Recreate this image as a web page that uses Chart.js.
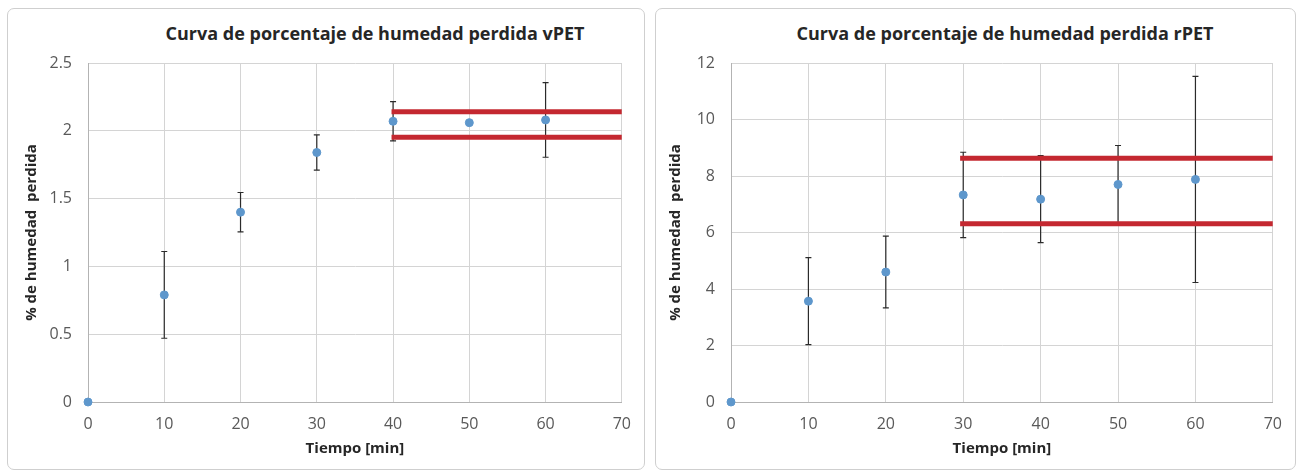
<!DOCTYPE html>
<html>
<head>
<meta charset="utf-8">
<script src="https://cdn.jsdelivr.net/npm/chart.js@4.4.1/dist/chart.umd.min.js"></script>
<style>
  body { margin: 0; background: #fff; width: 1303px; height: 475px; position: relative; overflow: hidden; }
  .panel { position: absolute; top: 8px; height: 460px; border: 1px solid #cfcfcf; border-radius: 7px; background: #fff; }
  .panel canvas { position: absolute; left: 0; top: 0; }
  .titulo { position: absolute; top: 13px; font: bold 18px 'Open Sans', sans-serif; line-height: 22px; color: #262626; white-space: nowrap; transform: translateX(-50%); }
</style>
</head>
<body>
<div class="panel" id="panelV" style="left:7px; width:636px;">
  <div class="titulo" style="left:367px;">Curva de porcentaje de humedad perdida vPET</div>
  <canvas id="chartV"></canvas>
</div>
<div class="panel" id="panelR" style="left:655px; width:639px;">
  <div class="titulo" style="left:349px;">Curva de porcentaje de humedad perdida rPET</div>
  <canvas id="chartR"></canvas>
</div>
<script>
// tiempo de secado (min)
const tiempo = [0, 10, 20, 30, 40, 50, 60];

// vPET: % de humedad perdida y desviacion
const vpetMedia = [0, 0.79, 1.40, 1.84, 2.07, 2.06, 2.08];
const vpetDesv = [0, 0.32, 0.145, 0.13, 0.145, 0.012, 0.275];
const vpetLimites = [2.14, 1.953];
const vpetLimiteDesde = 39.8;

// rPET: % de humedad perdida y desviacion
const rpetMedia = [0, 3.57, 4.60, 7.33, 7.18, 7.70, 7.88];
const rpetDesv = [0, 1.54, 1.27, 1.51, 1.54, 1.38, 3.65];
const rpetLimites = [8.63, 6.31];
const rpetLimiteDesde = 29.6;

// ticks
const xTicks = [0, 10, 20, 30, 40, 50, 60, 70];
const yTicksV = [0, 0.5, 1, 1.5, 2, 2.5];
const yTicksR = [0, 2, 4, 6, 8, 10, 12];

const fuente = "'Open Sans', sans-serif";

// error bars drawn under the points, using the chart scales
const errorBars = {
  id: 'errorBars',
  beforeDatasetsDraw(chart) {
    const { ctx, scales: { x, y } } = chart;
    chart.data.datasets.forEach(ds => {
      if (!ds.errores) return;
      ctx.save();
      ctx.strokeStyle = '#2b2b2b';
      ctx.lineWidth = 1.2;
      ds.data.forEach((p, i) => {
        const e = ds.errores[i];
        if (!e) return;
        const px = x.getPixelForValue(p.x);
        const top = y.getPixelForValue(p.y + e);
        const bot = y.getPixelForValue(p.y - e);
        ctx.beginPath();
        ctx.moveTo(px, top); ctx.lineTo(px, bot);
        ctx.moveTo(px - 3, top); ctx.lineTo(px + 3, top);
        ctx.moveTo(px - 3, bot); ctx.lineTo(px + 3, bot);
        ctx.stroke();
      });
      ctx.restore();
    });
  }
};

function buildChart(canvasId, media, desv, limites, desde, yMax, yTicks, yw, padR, yTitlePad) {
  const ctx = document.getElementById(canvasId);
  const puntos = tiempo.map((t, i) => ({ x: t, y: media[i] }));
  const lineas = limites.map(v => ({
    type: 'line',
    data: [{ x: desde, y: v }, { x: 70, y: v }],
    borderColor: '#c42830',
    borderWidth: 5,
    pointRadius: 0,
    borderCapStyle: 'butt',
    order: 0
  }));

  return new Chart(ctx, {
    type: 'scatter',
    data: {
      datasets: [
        {
          data: puntos,
          errores: desv,
          backgroundColor: '#5e97cc',
          borderColor: '#5e97cc',
          pointRadius: 4,
          pointHoverRadius: 4,
          clip: false,
          order: 1
        },
        ...lineas
      ]
    },
    options: {
      responsive: true,
      maintainAspectRatio: false,
      animation: false,
      layout: { padding: { top: 54, right: padR, bottom: 0, left: 0 } },
      plugins: {
        legend: { display: false },
        tooltip: { enabled: false }
      },
      scales: {
        x: {
          type: 'linear',
          min: 0,
          max: 70,
          afterBuildTicks: s => { s.ticks = xTicks.map(v => ({ value: v })); },
          afterFit: s => { s.height = 67; },
          grid: { color: '#d4d4d4', drawTicks: false },
          border: { color: '#b3b3b3' },
          ticks: { color: '#595959', padding: 13, font: { family: fuente, size: 16 } },
          title: {
            display: true,
            text: 'Tiempo [min]',
            color: '#262626',
            padding: { top: 0, bottom: 11 },
            font: { family: fuente, size: 15, weight: 'bold' }
          }
        },
        y: {
          type: 'linear',
          min: 0,
          max: yMax,
          afterBuildTicks: s => { s.ticks = yTicks.map(v => ({ value: v })); },
          afterFit: s => { s.width = yw; },
          grid: { color: '#d4d4d4', drawTicks: false },
          border: { color: '#b3b3b3' },
          ticks: { color: '#595959', padding: 16, font: { family: fuente, size: 16 }, callback: v => String(v) },
          title: {
            display: true,
            text: '% de humedad  perdida',
            color: '#262626',
            padding: { top: yTitlePad, bottom: 0 },
            font: { family: fuente, size: 15, weight: 'bold' }
          }
        }
      }
    },
    plugins: [errorBars]
  });
}

buildChart('chartV', vpetMedia, vpetDesv, vpetLimites, vpetLimiteDesde, 2.5, yTicksV, 80, 15, 15);
buildChart('chartR', rpetMedia, rpetDesv, rpetLimites, rpetLimiteDesde, 12, yTicksR, 75, 21, 11);
</script>
</body>
</html>
